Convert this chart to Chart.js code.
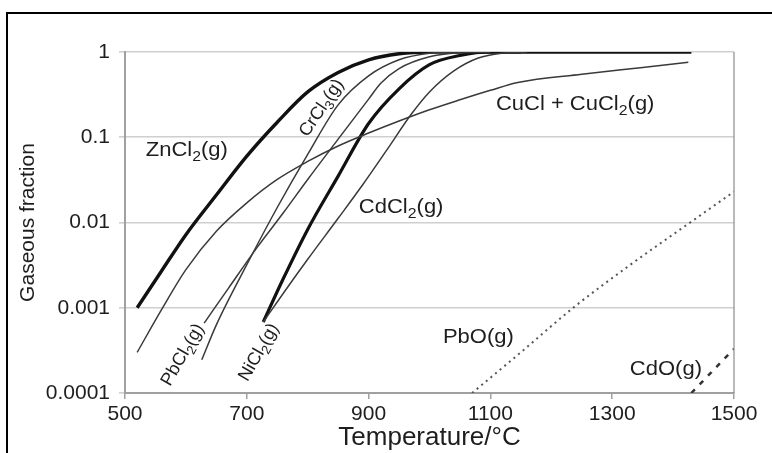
<!DOCTYPE html>
<html>
<head>
<meta charset="utf-8">
<script src="https://cdn.jsdelivr.net/npm/chart.js@4.4.1/dist/chart.umd.min.js"></script>
<style>
  html, body { margin: 0; padding: 0; background: #fff; }
  #wrap { position: relative; width: 772px; height: 453px; overflow: hidden; }
  #frame { position: absolute; left: 6px; top: 12px; width: 820px; height: 520px; border: 2px solid #000; }
  canvas { position: absolute; left: 0; top: 0; }
</style>
</head>
<body>
<div id="wrap">
  <div id="frame"></div>
  <canvas id="chart" width="772" height="453"></canvas>
</div>
<script>
// tick labels
const xTicks = [500, 700, 900, 1100, 1300, 1500];
const yTicks = [1, 0.1, 0.01, 0.001, 0.0001];

// temperature (C) / gaseous fraction
const zncl2T = [520, 560, 600, 650, 700, 750, 800, 850, 900, 950, 1000, 1430];
const zncl2Y = [0.001, 0.0027, 0.0072, 0.021, 0.06, 0.15, 0.34, 0.575, 0.81, 0.955, 1, 1];

const cuclT = [520, 560, 600, 650, 700, 750, 800, 850, 900, 950, 1000, 1050, 1100, 1145, 1250, 1350, 1425];
const cuclY = [0.0003, 0.00095, 0.0028, 0.0079, 0.017, 0.032, 0.052, 0.079, 0.112, 0.155, 0.21, 0.275, 0.355, 0.44, 0.55, 0.66, 0.76];

const crcl3T = [626, 650, 700, 750, 800, 850, 900, 950, 1000, 1050, 1100];
const crcl3Y = [0.000245, 0.00063, 0.0032, 0.015, 0.063, 0.24, 0.525, 0.81, 0.966, 1, 1];

const pbcl2T = [630, 670, 717, 760, 800, 850, 900, 920, 950, 1000, 1050, 1100];
const pbcl2Y = [0.00066, 0.0017, 0.0051, 0.013, 0.032, 0.095, 0.28, 0.43, 0.64, 0.88, 0.98, 1];

const nicl2T = [727, 760, 800, 850, 900, 950, 1000, 1050, 1100, 1150];
const nicl2Y = [0.00068, 0.0022, 0.0083, 0.035, 0.145, 0.37, 0.71, 0.91, 1, 1];

const cdcl2T = [727, 760, 800, 850, 890, 930, 970, 1000, 1040, 1080, 1120, 1160];
const cdcl2Y = [0.00068, 0.00148, 0.0037, 0.0112, 0.0275, 0.071, 0.186, 0.34, 0.6, 0.85, 0.97, 1];

const pboT = [1070, 1150, 1236, 1330, 1428, 1500];
const pboY = [0.0001, 0.0003, 0.001, 0.0032, 0.01, 0.023];

const cdoT = [1430, 1500];
const cdoY = [0.0001, 0.00033];

const FONT = '"Liberation Sans", Arial, sans-serif';
const toXY = (xs, ys) => xs.map((v, i) => ({ x: v, y: ys[i] }));

function line(data, width, color, dash) {
  return {
    data: data,
    borderColor: color,
    borderWidth: width,
    borderDash: dash || [],
    pointRadius: 0,
    cubicInterpolationMode: 'monotone',
    fill: false
  };
}

// curve labels, placed in data coordinates
const curveLabels = [
  { parts: [['ZnCl', 0], ['2', 1], ['(g)', 0]], x: 534, y: 0.07, rot: 0, align: 'left', size: 20 },
  { parts: [['CrCl', 0], ['3', 1], ['(g)', 0]], x: 823, y: 0.22, rot: -56, align: 'center', size: 18 },
  { parts: [['CuCl + CuCl', 0], ['2', 1], ['(g)', 0]], x: 1109, y: 0.24, rot: 0, align: 'left', size: 20 },
  { parts: [['CdCl', 0], ['2', 1], ['(g)', 0]], x: 884, y: 0.015, rot: 0, align: 'left', size: 20 },
  { parts: [['PbCl', 0], ['2', 1], ['(g)', 0]], x: 595, y: 0.00028, rot: -60, align: 'center', size: 18 },
  { parts: [['NiCl', 0], ['2', 1], ['(g)', 0]], x: 720, y: 0.0003, rot: -60, align: 'center', size: 18 },
  { parts: [['PbO(g)', 0]], x: 1022, y: 0.00045, rot: 0, align: 'left', size: 20 },
  { parts: [['CdO(g)', 0]], x: 1329, y: 0.00019, rot: 0, align: 'left', size: 20 }
];

function drawRich(ctx, parts, size, align) {
  let w = 0;
  parts.forEach(([t, sub]) => {
    ctx.font = (sub ? size * 0.72 : size) + 'px ' + FONT;
    w += ctx.measureText(t).width;
  });
  let cx = align === 'center' ? -w / 2 : 0;
  ctx.fillStyle = '#1e1e1e';
  ctx.textAlign = 'left';
  ctx.textBaseline = 'middle';
  parts.forEach(([t, sub]) => {
    ctx.font = (sub ? size * 0.72 : size) + 'px ' + FONT;
    ctx.fillText(t, cx, sub ? size * 0.32 : 0);
    cx += ctx.measureText(t).width;
  });
}

const labelPlugin = {
  id: 'chemLabels',
  afterDatasetsDraw(chart) {
    const { ctx, chartArea, scales } = chart;
    ctx.save();
    ctx.strokeStyle = '#8c8c8c';
    ctx.lineWidth = 1.2;
    ctx.beginPath();
    ctx.moveTo(chartArea.right, chartArea.top);
    ctx.lineTo(chartArea.right, chartArea.bottom);
    ctx.stroke();
    curveLabels.forEach(l => {
      ctx.save();
      ctx.translate(scales.x.getPixelForValue(l.x), scales.y.getPixelForValue(l.y));
      ctx.rotate(l.rot * Math.PI / 180);
      // the source figure is slightly stretched sideways
      if (l.rot === 0) ctx.scale(1.1, 1);
      drawRich(ctx, l.parts, l.size, l.align);
      ctx.restore();
    });
    ctx.restore();
  }
};

const thick = '#111', thin = '#3a3a3a';

new Chart(document.getElementById('chart'), {
  type: 'line',
  data: {
    datasets: [
      line(toXY(cuclT, cuclY), 1.5, thin),
      line(toXY(crcl3T, crcl3Y), 1.5, thin),
      line(toXY(pbcl2T, pbcl2Y), 1.5, thin),
      line(toXY(cdcl2T, cdcl2Y), 1.5, thin),
      line(toXY(nicl2T, nicl2Y), 3.2, thick),
      line(toXY(zncl2T, zncl2Y), 3.4, thick),
      line(toXY(pboT, pboY), 2, '#555', [2, 4]),
      line(toXY(cdoT, cdoY), 2.5, '#333', [5, 7])
    ]
  },
  options: {
    responsive: false,
    animation: false,
    layout: { padding: { top: 52, right: 38, left: 0, bottom: 0 } },
    plugins: { legend: { display: false }, tooltip: { enabled: false } },
    scales: {
      x: {
        type: 'linear',
        min: 500,
        max: 1500,
        afterBuildTicks: s => { s.ticks = xTicks.map(v => ({ value: v })); },
        afterFit: s => { s.height = 60; },
        ticks: { callback: v => String(v), font: { size: 21, family: FONT }, color: '#1e1e1e', padding: 3, maxRotation: 0 },
        grid: { drawOnChartArea: false, tickLength: 6, color: '#a0a0a0', lineWidth: 1.5 },
        border: { color: '#a0a0a0', width: 2 },
        title: { display: true, text: 'Temperature/°C', font: { size: 26, family: FONT }, color: '#1e1e1e', padding: { top: 0, bottom: 0 } }
      },
      y: {
        type: 'logarithmic',
        min: 0.0001,
        max: 1,
        afterBuildTicks: s => { s.ticks = yTicks.map(v => ({ value: v })); },
        afterFit: s => { s.width = 125; },
        ticks: { callback: v => String(v), font: { size: 21, family: FONT }, color: '#1e1e1e', padding: 9, autoSkip: false },
        grid: { color: '#cfcfcf', lineWidth: 1.6, tickLength: 6 },
        border: { color: '#a0a0a0', width: 2 },
        title: { display: true, text: 'Gaseous fraction', font: { size: 21, family: FONT }, color: '#1e1e1e', padding: { top: 16, bottom: 0 } }
      }
    }
  },
  plugins: [labelPlugin]
});
</script>
</body>
</html>
